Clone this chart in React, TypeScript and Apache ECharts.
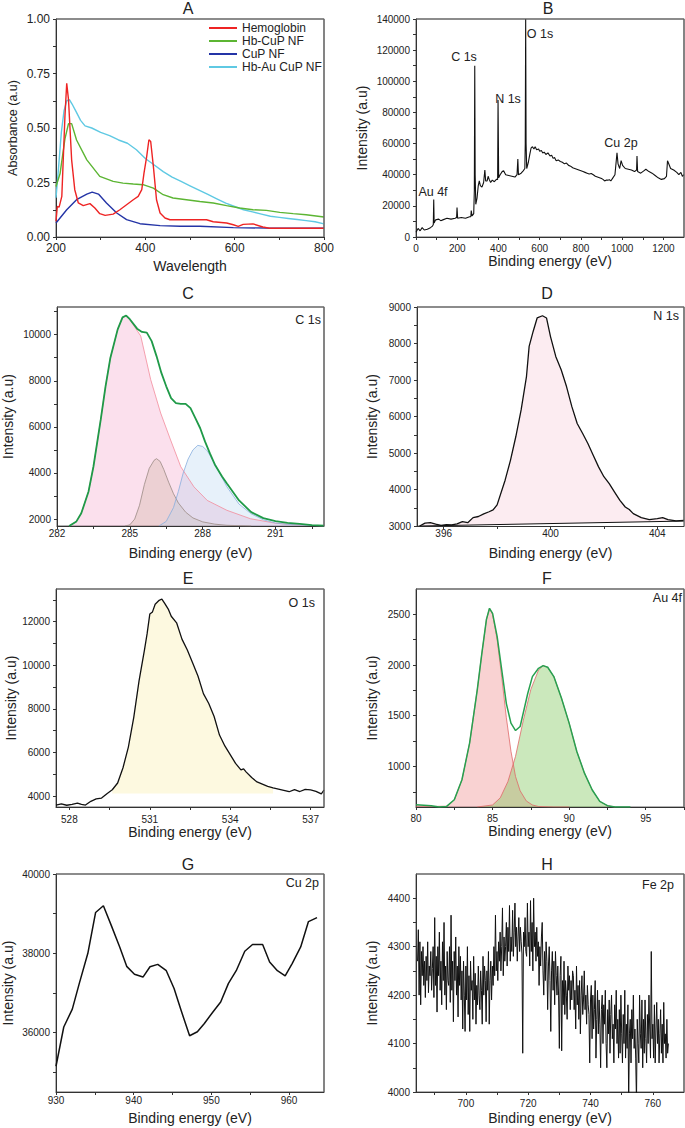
import React, { useEffect, useRef } from "react";
import * as echarts from "echarts";

const FONT = '"Liberation Sans", Arial, Helvetica, sans-serif';

// ---------------- Panel A : UV-vis ----------------
const aHemoglobin = [[200,0.072],[203,0.14],[207,0.137],[213,0.186],[220,0.553],[224,0.705],[228,0.63],[235,0.354],[242,0.217],[250,0.156],[261,0.144],[276,0.153],[287,0.133],[298,0.107],[310,0.099],[328,0.105],[343,0.125],[358,0.148],[373,0.171],[384,0.186],[392,0.217],[397,0.293],[403,0.369],[408,0.446],[412,0.438],[418,0.324],[425,0.171],[433,0.11],[444,0.087],[455,0.079],[492,0.079],[537,0.079],[552,0.07],[582,0.064],[597,0.056],[608,0.049],[619,0.058],[641,0.06],[663,0.046],[678,0.04],[800,0.04]];
const aHbCuP = [[200,0.232],[209,0.29],[220,0.45],[228,0.52],[235,0.52],[246,0.445],[269,0.354],[298,0.278],[328,0.255],[350,0.247],[373,0.243],[395,0.24],[418,0.224],[440,0.194],[462,0.179],[492,0.171],[522,0.163],[552,0.156],[582,0.144],[611,0.133],[641,0.125],[671,0.122],[701,0.113],[731,0.107],[760,0.102],[800,0.092]];
const aCuP = [[200,0.064],[224,0.125],[246,0.171],[269,0.197],[281,0.206],[295,0.197],[313,0.156],[336,0.11],[358,0.08],[388,0.061],[433,0.052],[478,0.049],[522,0.049],[597,0.043],[671,0.041],[800,0.04]];
const aHbAuCuP = [[200,0.18],[205,0.3],[212,0.48],[218,0.58],[224,0.625],[230,0.63],[236,0.61],[245,0.575],[255,0.535],[265,0.51],[280,0.5],[300,0.48],[320,0.465],[340,0.445],[360,0.43],[380,0.4],[400,0.36],[420,0.33],[440,0.3],[460,0.275],[480,0.255],[500,0.235],[520,0.215],[540,0.195],[560,0.175],[580,0.155],[600,0.14],[620,0.125],[640,0.115],[660,0.105],[680,0.095],[700,0.09],[720,0.085],[740,0.08],[760,0.075],[780,0.07],[800,0.06]];
const aXTicks = [200, 400, 600, 800];
const aXMinor = [300, 500, 700];
const aYTicks = [0, 0.25, 0.5, 0.75, 1];
const aYMinor = [0.125, 0.375, 0.625, 0.875];

// ---------------- Panel B : survey ----------------
const bSurvey = [[0,3000],[10,5500],[20,4000],[30,6000],[40,4500],[55,5000],[70,6000],[80,7000],[84,8000],[86,24000],[88,9000],[95,11000],[110,11500],[120,10500],[130,11000],[150,12000],[170,11500],[190,12000],[197,12500],[199,19000],[202,12000],[220,12500],[240,12000],[260,13000],[266,13000],[268,17000],[272,13500],[280,15000],[283,30000],[285,110000],[287,40000],[290,21000],[296,25000],[302,33000],[307,36000],[312,33000],[320,32000],[328,35000],[334,43000],[338,36000],[345,36000],[350,39000],[355,37000],[362,35000],[370,36500],[380,35500],[390,37000],[396,37000],[398,88000],[401,38000],[408,40000],[418,42000],[425,42500],[435,40000],[450,39500],[465,39000],[480,38500],[490,40000],[494,50000],[497,40000],[510,41000],[520,42500],[528,44000],[530,60000],[532,140000],[534,60000],[537,44000],[545,48000],[552,53000],[558,57000],[565,58000],[572,56500],[578,58000],[585,56000],[595,56500],[600,55000],[608,55500],[615,54000],[622,54500],[630,53000],[640,54000],[650,52000],[658,52500],[665,50500],[672,51000],[680,49000],[690,49500],[700,48500],[710,48000],[720,47000],[730,47500],[740,46000],[750,45500],[760,44500],[770,44000],[780,43500],[790,43000],[800,42500],[810,42000],[820,41500],[830,41000],[840,40500],[850,40800],[860,40000],[870,39000],[880,38500],[890,38000],[900,37500],[907,37000],[915,36000],[922,36500],[930,36500],[938,36800],[945,36000],[955,38000],[965,40000],[975,54000],[980,47000],[988,44000],[995,49000],[1002,46000],[1015,44000],[1030,43500],[1045,43000],[1060,42000],[1070,43000],[1072,52000],[1075,42000],[1090,41000],[1105,42500],[1115,43500],[1130,42000],[1145,41000],[1160,39500],[1175,38000],[1190,37000],[1205,37500],[1215,39000],[1220,49000],[1226,47000],[1235,44000],[1250,43000],[1265,41500],[1275,40000],[1285,41500],[1292,39000],[1300,40000]];
const bXTicks = [0, 200, 400, 600, 800, 1000, 1200];
const bXMinor = [100, 300, 500, 700, 900, 1100];
const bYTicks = [0, 20000, 40000, 60000, 80000, 100000, 120000, 140000];
const bYMinor = [10000, 30000, 50000, 70000, 90000, 110000, 130000];

// ---------------- Panel C : C 1s ----------------
const cEnvelope = [[282.5,1700],[282.8,1900],[283.0,2250],[283.3,3200],[283.5,4270],[283.8,6300],[284.0,7760],[284.2,9000],[284.5,10230],[284.7,10750],[284.85,10830],[285.0,10670],[285.3,10260],[285.5,10120],[285.7,10090],[285.9,9720],[286.1,9070],[286.3,8340],[286.5,7760],[286.7,7250],[286.9,7030],[287.1,7000],[287.3,7000],[287.5,6810],[287.7,6380],[287.9,5940],[288.1,5360],[288.3,4850],[288.5,4370],[288.8,3850],[289.0,3540],[289.5,2810],[290.0,2300],[290.5,2040],[291.0,1910],[291.5,1840],[292.0,1790],[292.5,1740],[293.0,1720]];
const cPeak1 = [[282.5,1700],[282.8,1900],[283.0,2250],[283.3,3200],[283.5,4270],[283.8,6300],[284.0,7760],[284.2,9000],[284.5,10230],[284.7,10750],[284.85,10830],[285.0,10650],[285.45,9940],[285.86,8050],[286.27,6600],[286.68,5430],[287.1,4270],[287.64,3400],[288.19,2810],[289.0,2380],[289.97,2015],[291.0,1820],[292.0,1740],[293.0,1710]];
const cPeak2 = [[284.8,1700],[285.0,1750],[285.2,2000],[285.4,2600],[285.6,3500],[285.8,4200],[286.0,4550],[286.1,4620],[286.25,4500],[286.4,4150],[286.6,3600],[286.8,3100],[287.0,2700],[287.3,2300],[287.6,2050],[288.0,1880],[288.5,1780],[289.0,1730],[290.0,1700]];
const cPeak3 = [[286.2,1700],[286.5,1900],[286.8,2500],[287.0,3200],[287.2,4000],[287.4,4600],[287.6,5000],[287.8,5200],[288.0,5150],[288.2,4950],[288.5,4400],[288.8,3800],[289.0,3400],[289.5,2650],[290.0,2230],[290.5,1970],[291.0,1830],[291.5,1770],[292.0,1740],[293.0,1705]];
const cXTicks = [282, 285, 288, 291];
const cXMinor = [283.5, 286.5, 289.5, 292.5];
const cYTicks = [2000, 4000, 6000, 8000, 10000];
const cYMinor = [3000, 5000, 7000, 9000, 11000];

// ---------------- Panel D : N 1s ----------------
const dSpectrum = [[395.1,3000],[395.3,3080],[395.5,3090],[395.7,3050],[395.9,3020],[396.1,3040],[396.3,3030],[396.5,3060],[396.7,3120],[396.9,3090],[397.1,3230],[397.3,3260],[397.5,3330],[397.7,3390],[397.85,3440],[398.0,3580],[398.3,4255],[398.5,4800],[398.7,5445],[398.9,6180],[399.1,7095],[399.2,7920],[399.35,8330],[399.5,8700],[399.7,8760],[399.85,8700],[400.0,8190],[400.2,7640],[400.4,7280],[400.6,6820],[400.8,6270],[401.0,5810],[401.2,5540],[401.4,5260],[401.6,4940],[401.8,4620],[402.0,4350],[402.2,4160],[402.4,3930],[402.6,3700],[402.8,3520],[402.95,3450],[403.1,3340],[403.4,3230],[403.7,3175],[404.0,3200],[404.2,3230],[404.4,3175],[404.7,3140],[405.0,3155]];
const dBaseline = [[395.1,3000],[405,3135]];
const dXTicks = [396, 400, 404];
const dXMinor = [398, 402];
const dYTicks = [3000, 4000, 5000, 6000, 7000, 8000, 9000];
const dYMinor = [3500, 4500, 5500, 6500, 7500, 8500];

// ---------------- Panel E : O 1s ----------------
const eSpectrum = [[527.5,3590],[527.7,3640],[527.9,3580],[528.1,3620],[528.3,3680],[528.45,3620],[528.6,3590],[528.8,3760],[529.0,3870],[529.2,3910],[529.4,4110],[529.6,4290],[529.8,4600],[530.0,5300],[530.2,6250],[530.4,7600],[530.6,9300],[530.8,10700],[530.9,11450],[531.0,12350],[531.1,12450],[531.2,12800],[531.35,12980],[531.45,13040],[531.55,12850],[531.7,12550],[531.8,12250],[532.0,11950],[532.2,11200],[532.4,10700],[532.6,10100],[532.8,9500],[533.0,8700],[533.2,8250],[533.4,7650],[533.6,6800],[533.8,6300],[534.0,5900],[534.2,5500],[534.4,5200],[534.5,5250],[534.6,5100],[534.8,4850],[535.0,4650],[535.2,4550],[535.4,4450],[535.6,4380],[535.8,4320],[536.0,4260],[536.2,4200],[536.4,4300],[536.6,4210],[536.8,4310],[537.0,4290],[537.2,4220],[537.4,4100],[537.5,4280]];
const eFillRange = [529.5, 535.7];
const eFillBase = 4120;
const eXTicks = [528, 531, 534, 537];
const eXMinor = [529.5, 532.5, 535.5];
const eYTicks = [4000, 6000, 8000, 10000, 12000];
const eYMinor = [5000, 7000, 9000, 11000, 13000];

// ---------------- Panel F : Au 4f ----------------
const fEnvelope = [[80,622],[81,613],[81.5,600],[82,606],[82.5,672],[83,869],[83.5,1230],[84,1755],[84.3,2116],[84.6,2450],[84.8,2560],[85.0,2510],[85.3,2280],[85.6,1950],[85.9,1620],[86.2,1427],[86.5,1354],[86.8,1394],[87.0,1525],[87.3,1722],[87.6,1886],[88.0,1968],[88.3,1994],[88.6,1978],[89.0,1886],[89.5,1673],[90.0,1427],[90.5,1148],[91.0,934],[91.5,770],[92.0,655],[92.5,613],[93,600],[94,600]];
const fPeak1 = [[80,610],[81,605],[82,608],[82.5,670],[83,869],[83.5,1230],[84,1755],[84.3,2116],[84.6,2450],[84.8,2560],[85.0,2500],[85.3,2250],[85.6,1880],[85.9,1480],[86.2,1150],[86.5,900],[86.8,760],[87.2,660],[87.6,620],[88,605],[89,600],[90,600]];
const fPeak2 = [[84,600],[85,620],[85.5,690],[86,850],[86.5,1100],[87,1450],[87.5,1760],[88,1950],[88.3,1994],[88.6,1978],[89,1886],[89.5,1673],[90,1427],[90.5,1148],[91,934],[91.5,770],[92,655],[92.5,613],[93,600]];
const fXTicks = [80, 85, 90, 95];
const fXMinor = [82.5, 87.5, 92.5, 97.5];
const fYTicks = [1000, 1500, 2000, 2500];
const fYMinor = [750, 1250, 1750, 2250];

// ---------------- Panel G : Cu 2p ----------------
const gSpectrum = [[930.0,35150],[931.0,36140],[932.1,36590],[933.0,37240],[934.1,38000],[935.1,39030],[936.1,39200],[937.1,38710],[938.2,38160],[939.1,37670],[940.1,37470],[941.2,37400],[942.1,37660],[943.1,37720],[944.2,37560],[945.2,37110],[946.1,36560],[947.2,35920],[948.2,36020],[949.1,36230],[950.2,36520],[951.2,36770],[952.2,37240],[953.2,37560],[954.3,38050],[955.3,38220],[956.6,38220],[957.5,37780],[958.5,37560],[959.5,37430],[960.4,37740],[961.5,38160],[962.5,38800],[963.6,38900]];
const gXTicks = [930, 940, 950, 960];
const gXMinor = [935, 945, 955];
const gYTicks = [36000, 38000, 40000];
const gYMinor = [35000, 37000, 39000];

// ---------------- Panel H : Fe 2p ----------------
const hStart = 684.5;
const hStep = 0.25;
const hValues = [
  4270,4335,4200,4310,4180,4290,4240,4300,4220,4270,4195,4280,4230,4310,4205,4260,4240,4290,4210,4255,
  4300,4195,4360,4220,4280,4165,4300,4240,4330,4210,4270,4180,4310,4230,4350,4200,4260,4170,4290,4230,
  4220,4300,4185,4365,4210,4270,4145,4290,4230,4320,4200,4260,4155,4300,4220,4280,4190,4250,4130,4270,
  4200,4125,4260,4190,4300,4160,4240,4125,4270,4210,4230,4150,4280,4190,4245,4140,4220,4180,4260,4200,
  4170,4250,4210,4140,4280,4200,4260,4230,4145,4250,4210,4290,4140,4230,4270,4190,4260,4220,4300,4240,
  4365,4250,4290,4230,4310,4270,4330,4250,4300,4380,4240,4320,4270,4300,4350,4260,4340,4290,4385,4270,
  4320,4290,4375,4280,4330,4390,4300,4340,4270,4320,4360,4290,4340,4310,4285,4080,4330,4300,4360,4290,
  4280,4390,4300,4330,4260,4395,4290,4350,4250,4400,4300,4330,4270,4340,4280,4310,4220,4300,4260,4320,
  4350,4250,4200,4290,4230,4310,4270,4170,4260,4300,4230,4125,4250,4290,4210,4270,4180,4290,4240,4200,
  4260,4200,4090,4240,4280,4085,4230,4180,4270,4160,4230,4200,4150,4260,4210,4240,4170,4230,4190,4250,
  4240,4170,4210,4130,4260,4180,4220,4150,4230,4120,4200,4240,4160,4190,4250,4170,4200,4140,4220,4180,
  4160,4060,4190,4220,4110,4200,4130,4170,4230,4070,4150,4210,4120,4190,4140,4050,4170,4200,4100,4180,
  4140,4210,4100,4050,4170,4120,4190,4080,4160,4200,4110,4140,4060,4180,4130,4210,4100,4150,4070,4170,
  4080,4200,4120,4060,4160,4100,4210,4070,4140,4090,4180,3980,4120,4150,4060,4170,4110,4200,4090,4130,
  4070,3980,4150,4100,4060,4200,4120,4090,4190,4050,4150,4080,4190,4110,4060,4160,4100,4200,4130,4070,
  4290,4110,4140,4070,4180,4060,4130,4185,4100,4150,4060,4120,4170,4080,4140,4060,4185,4100,4120,4070,
  4150,4080,4100
];
const hXTicks = [700, 720, 740, 760];
const hXMinor = [690, 710, 730, 750];
const hYTicks = [4000, 4100, 4200, 4300, 4400];
const hYMinor = [4050, 4150, 4250, 4350];

// ---------------- layout ----------------
const intName = "Intensity (a.u)";
const beName = "Binding energy (eV)";
const fmtInt = (v: number) => String(v);
const fmt2 = (v: number) => v.toFixed(2);

const panels = [
  { box: [56, 19, 268, 218], x: [200, 800], y: [0, 1], xt: aXTicks, xm: aXMinor, yt: aYTicks, ym: aYMinor, xName: "Wavelength", yName: "Absorbance (a.u)", xGap: 22, yGap: 37, tickFont: 12, yNameFont: 12.5, xMargin: 5, fmt: fmt2 },
  { box: [416, 19, 268, 218], x: [0, 1300], y: [0, 140000], xt: bXTicks, xm: bXMinor, yt: bYTicks, ym: bYMinor, xName: beName, yName: intName, xGap: 11, yGap: 47, tickFont: 10, yNameFont: 14, xMargin: 6, fmt: fmtInt },
  { box: [57, 307, 267, 219], x: [282, 293], y: [1700, 11200], xt: cXTicks, xm: cXMinor, yt: cYTicks, ym: cYMinor, xName: beName, yName: intName, xGap: 20, yGap: 42, tickFont: 10, yNameFont: 14, xMargin: 2, fmt: fmtInt },
  { box: [417, 307, 267, 219], x: [395, 405], y: [3000, 9000], xt: dXTicks, xm: dXMinor, yt: dYTicks, ym: dYMinor, xName: beName, yName: intName, xGap: 20, yGap: 38, tickFont: 10, yNameFont: 14, xMargin: 2, fmt: fmtInt },
  { box: [56, 589, 268, 218], x: [527.5, 537.5], y: [3500, 13500], xt: eXTicks, xm: eXMinor, yt: eYTicks, ym: eYMinor, xName: beName, yName: intName, xGap: 14, yGap: 32, tickFont: 10, yNameFont: 14, xMargin: 7, fmt: fmtInt },
  { box: [416, 589, 268, 218], x: [80, 97.5], y: [600, 2750], xt: fXTicks, xm: fXMinor, yt: fYTicks, ym: fYMinor, xName: beName, yName: intName, xGap: 11, yGap: 37, tickFont: 10, yNameFont: 14, xMargin: 6, fmt: fmtInt },
  { box: [56, 874, 268, 218], x: [930, 964.5], y: [34500, 40000], xt: gXTicks, xm: gXMinor, yt: gYTicks, ym: gYMinor, xName: beName, yName: intName, xGap: 19, yGap: 41, tickFont: 10, yNameFont: 14, xMargin: 3, fmt: fmtInt },
  { box: [416, 874, 268, 218], x: [684, 770], y: [4000, 4450], xt: hXTicks, xm: hXMinor, yt: hYTicks, ym: hYMinor, xName: beName, yName: intName, xGap: 19, yGap: 37, tickFont: 10, yNameFont: 14, xMargin: 6, fmt: fmtInt },
];

const titles = [
  { t: "A", x: 188, y: 8 }, { t: "B", x: 548, y: 8 },
  { t: "C", x: 188, y: 293 }, { t: "D", x: 547, y: 293 },
  { t: "E", x: 188, y: 578 }, { t: "F", x: 547, y: 578 },
  { t: "G", x: 188, y: 864 }, { t: "H", x: 547, y: 864 },
];

const notes = [
  { t: "Au 4f", x: 433, y: 192, a: "center" }, { t: "C 1s", x: 464, y: 57, a: "center" },
  { t: "N 1s", x: 508, y: 99, a: "center" }, { t: "O 1s", x: 540, y: 34, a: "center" },
  { t: "Cu 2p", x: 621, y: 143, a: "center" },
  { t: "C 1s", x: 321, y: 320, a: "right" }, { t: "N 1s", x: 679, y: 316, a: "right" },
  { t: "O 1s", x: 315, y: 603, a: "right" }, { t: "Au 4f", x: 682, y: 598, a: "right" },
  { t: "Cu 2p", x: 319, y: 883, a: "right" }, { t: "Fe 2p", x: 674, y: 885, a: "right" },
];

const FRAME = "#666666";

function buildOption() {
  const grid: any[] = [];
  const xAxis: any[] = [];
  const yAxis: any[] = [];
  const graphic: any[] = [];
  const axisColor = "#333";
  panels.forEach((p, i) => {
    grid.push({ left: p.box[0], top: p.box[1], width: p.box[2], height: p.box[3], show: true, borderColor: FRAME, borderWidth: 1 });
    xAxis.push({
      type: "value", gridIndex: i, min: p.x[0], max: p.x[1], position: "bottom",
      axisLine: { show: true, onZero: false, lineStyle: { color: axisColor, width: 1 } },
      axisTick: { show: true, customValues: [...p.xt, ...p.xm].sort((a, b) => a - b), length: 3, lineStyle: { color: axisColor } },
      axisLabel: { show: true, customValues: p.xt, fontSize: p.tickFont, color: "#222", margin: p.xMargin, fontFamily: FONT, formatter: (v: number) => String(v) },
      splitLine: { show: false },
      name: p.xName, nameLocation: "middle", nameGap: p.xGap,
      nameTextStyle: { fontSize: 14, color: "#222", fontFamily: FONT },
    });
    yAxis.push({
      type: "value", gridIndex: i, min: p.y[0], max: p.y[1], position: "left",
      axisLine: { show: true, onZero: false, lineStyle: { color: axisColor, width: 1 } },
      axisTick: { show: true, customValues: [...p.yt, ...p.ym].sort((a, b) => a - b), length: 3, lineStyle: { color: axisColor } },
      axisLabel: { show: true, customValues: p.yt, fontSize: p.tickFont, color: "#222", margin: 6, fontFamily: FONT, formatter: p.fmt },
      splitLine: { show: false },
      name: p.yName, nameLocation: "middle", nameGap: p.yGap,
      nameTextStyle: { fontSize: p.yNameFont, color: "#222", fontFamily: FONT },
    });
  });

  const line = (i: number, data: number[][], color: string, width: number, extra: any = {}) => ({
    type: "line", xAxisIndex: i, yAxisIndex: i, data, showSymbol: false, symbol: "none",
    lineStyle: { color, width }, itemStyle: { color }, ...extra,
  });

  const hFe2p = hValues.map((v, i) => [hStart + i * hStep, v]);
  const eFill = eSpectrum.filter((d) => d[0] >= eFillRange[0] && d[0] <= eFillRange[1]);

  // top and right sides of each plot frame, along the axis limits
  const frames = panels.map((p, i) =>
    line(i, [[p.x[0], p.y[1]], [p.x[1], p.y[1]], [p.x[1], p.y[0]]], FRAME, 1.2, { clip: false, z: 3, silent: true })
  );

  const series: any[] = [
    // A
    line(0, aHbAuCuP, "#5fc9e3", 1.4, { name: "Hb-Au CuP NF" }),
    line(0, aHbCuP, "#5cb533", 1.4, { name: "Hb-CuP NF" }),
    line(0, aCuP, "#2434a6", 1.4, { name: "CuP NF" }),
    line(0, aHemoglobin, "#ee2424", 1.4, { name: "Hemoglobin" }),
    // B
    line(1, bSurvey, "#111", 1.1),
    // C
    line(2, cPeak1, "#f28c9c", 0.8, { areaStyle: { color: "rgba(240,150,195,0.42)", origin: "start" } }),
    line(2, cPeak2, "#9a8a84", 0.8, { areaStyle: { color: "rgba(195,165,140,0.38)", origin: "start" } }),
    line(2, cPeak3, "#88aede", 0.8, { areaStyle: { color: "rgba(175,208,238,0.42)", origin: "start" } }),
    line(2, cEnvelope, "#1f9a48", 1.8),
    // D
    line(3, dSpectrum, "#111", 0, { areaStyle: { color: "#fcecf1", origin: "start", opacity: 1 }, lineStyle: { width: 0, opacity: 0 } }),
    line(3, dBaseline, "#111", 1, { areaStyle: { color: "#ffffff", origin: "start", opacity: 1 } }),
    line(3, dSpectrum, "#111", 1.3),
    // E
    line(4, eFill, "#111", 0, { areaStyle: { color: "#fdf9e0", origin: eFillBase, opacity: 1 }, lineStyle: { width: 0, opacity: 0 } }),
    line(4, eSpectrum, "#111", 1.3),
    // F
    line(5, fPeak1, "#e06868", 0.8, { areaStyle: { color: "rgba(235,110,110,0.45)", origin: "start" } }),
    line(5, fPeak2, "#e06868", 0.8, { areaStyle: { color: "rgba(120,195,80,0.55)", origin: "start" } }),
    line(5, fEnvelope, "#27a150", 1.5),
    // G
    line(6, gSpectrum, "#111", 1.5),
    // H
    line(7, hFe2p, "#111", 1),
    ...frames,
  ];

  titles.forEach((t) => graphic.push({ type: "text", x: t.x, y: t.y, style: { text: t.t, fontSize: 16, fontFamily: FONT, fill: "#222", align: "center", verticalAlign: "middle" } }));
  notes.forEach((n) => graphic.push({ type: "text", x: n.x, y: n.y, style: { text: n.t, fontSize: 12.5, fontFamily: FONT, fill: "#222", align: n.a, verticalAlign: "middle" } }));

  return {
    animation: false,
    grid, xAxis, yAxis, series, graphic,
    legend: {
      data: ["Hemoglobin", "Hb-CuP NF", "CuP NF", "Hb-Au CuP NF"],
      orient: "vertical", left: 209, top: 22, padding: 0,
      icon: "rect", itemWidth: 28, itemHeight: 2, itemGap: 1,
      textStyle: { fontSize: 12, color: "#222", fontFamily: FONT },
      selectedMode: false,
    },
  };
}

export default function App() {
  const ref = useRef<HTMLDivElement>(null);
  useEffect(() => {
    if (!ref.current) return;
    const chart = echarts.init(ref.current, undefined, { renderer: "svg" });
    chart.setOption(buildOption() as any);
    return () => chart.dispose();
  }, []);
  return <div ref={ref} style={{ position: "absolute", left: 0, top: 0, width: 685, height: 1128 }} />;
}
